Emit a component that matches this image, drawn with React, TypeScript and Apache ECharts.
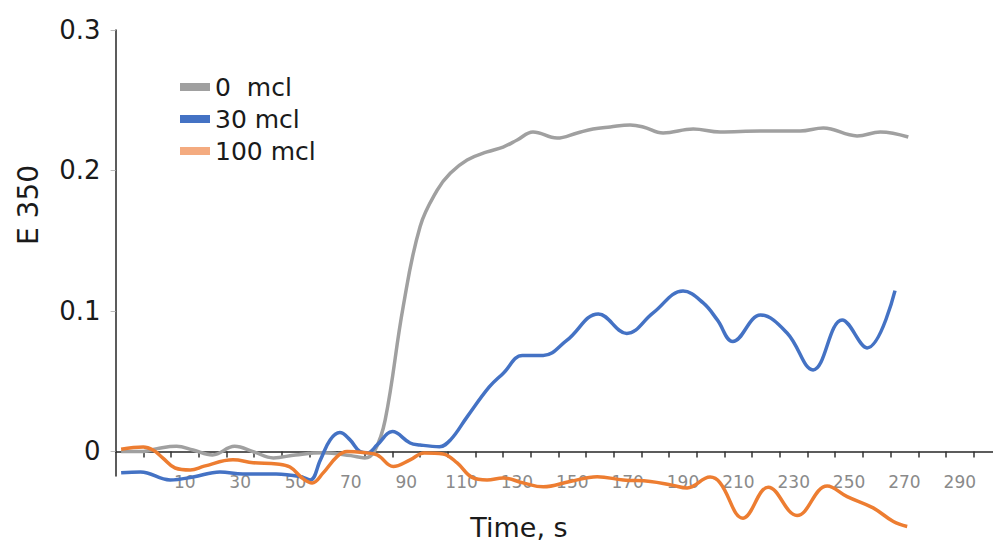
import React, { useEffect, useRef } from "react";
import * as echarts from "echarts";

const FONT = "DejaVu Sans";

const seriesNames = ["0  mcl", "30 mcl", "100 mcl"];

const grayTime = [-13, -5, 0, 7, 13, 20, 28, 35, 42, 50, 60, 70, 75, 78.5, 82.4, 88.9, 95, 101.2, 105.9, 112, 119.2, 125, 130.1, 135.8, 144.5, 151.8, 157.5, 163.7, 170.9, 175.6, 182.8, 193.7, 203.4, 217.9, 232.3, 240.7, 252.9, 261.3, 271.4];
const grayVal = [0.0, 0.0, 0.002, 0.0036, 0.001, -0.0025, 0.0036, -0.0004, -0.0046, -0.0025, -0.001, -0.003, -0.0046, 0.0, 0.0224, 0.103, 0.16, 0.186, 0.198, 0.2075, 0.2132, 0.2167, 0.2217, 0.2274, 0.2231, 0.2267, 0.2295, 0.231, 0.2324, 0.231, 0.2267, 0.2295, 0.2274, 0.2281, 0.2281, 0.2302, 0.2246, 0.2274, 0.2238];

const blueTime = [-13, -6, 4.7, 13, 22.7, 31, 43, 51.6, 55.3, 59, 62.5, 66, 69.7, 73.3, 76, 79.5, 85, 91.4, 95, 102, 106, 112, 120, 125, 132, 139.5, 148, 159.4, 169.7, 179.2, 190, 197.3, 202.4, 208, 218, 227.6, 237, 247.5, 256.5, 266.6];
const blueVal = [-0.0151, -0.0146, -0.0203, -0.0182, -0.0146, -0.016, -0.016, -0.0178, -0.0203, -0.006, 0.0082, 0.0134, 0.0082, -0.0001, -0.001, 0.0046, 0.0141, 0.006, 0.0046, 0.0034, 0.0082, 0.0246, 0.0459, 0.0555, 0.0683, 0.0683, 0.079, 0.0979, 0.084, 0.0986, 0.1142, 0.1057, 0.0936, 0.0782, 0.0971, 0.0843, 0.058, 0.0936, 0.0737, 0.1145];

const orangeTime = [-13, -5, -1.5, 2, 6.5, 12, 17, 27.4, 34.7, 43.3, 48, 52.4, 56, 60, 65, 68.6, 74.4, 79.5, 85.3, 91.4, 96.5, 103.3, 108.4, 113.8, 119.2, 125, 132.2, 139.5, 149.2, 159, 168.4, 178.2, 186, 191.5, 199.8, 203.4, 211.7, 220.8, 231.2, 242.1, 249.3, 258.7, 266, 271];
const orangeVal = [0.0016, 0.0032, 0.001, -0.0046, -0.0118, -0.0132, -0.0105, -0.006, -0.008, -0.0089, -0.0111, -0.0189, -0.0224, -0.0153, -0.0037, -0.0001, -0.0008, -0.0025, -0.0107, -0.006, -0.0011, -0.0018, -0.0082, -0.0185, -0.0203, -0.0189, -0.0224, -0.0252, -0.0214, -0.0181, -0.0203, -0.0214, -0.024, -0.026, -0.0183, -0.0224, -0.0475, -0.0255, -0.0456, -0.0246, -0.0322, -0.0402, -0.0499, -0.0534];

const xTickValues = [-5, 5, 15, 25, 35, 45, 55, 65, 75, 85, 95, 105, 115, 125, 135, 145, 155, 165, 175, 185, 195, 205, 215, 225, 235, 245, 255, 265, 275, 285, 295];
const xLabelValues = [10, 30, 50, 70, 90, 110, 130, 150, 170, 190, 210, 230, 250, 270, 290];
const yLabelValues = [0, 0.1, 0.2, 0.3];

const lineColors = ["#a0a0a0", "#4472c4", "#ed7d31"];
const legendColors = ["#a0a0a0", "#4472c4", "#f4ab80"];

function pairs(t: number[], v: number[]) {
  return t.map((x, i) => [x, v[i]]);
}

export default function App() {
  const ref = useRef<HTMLDivElement>(null);
  useEffect(() => {
    const chart = echarts.init(ref.current!, null, { renderer: "svg" });
    const datasets = [
      pairs(grayTime, grayVal),
      pairs(blueTime, blueVal),
      pairs(orangeTime, orangeVal),
    ];
    chart.setOption({
      animation: false,
      backgroundColor: "#ffffff",
      textStyle: { fontFamily: FONT },
      grid: { left: 115.6, right: 0, top: 30, bottom: 65, containLabel: false },
      legend: {
        orient: "vertical",
        left: 175,
        top: 69,
        icon: "rect",
        itemWidth: 30,
        itemHeight: 8,
        itemGap: 6,
        textStyle: { fontFamily: FONT, fontSize: 25, lineHeight: 26, color: "#1a1a1a", padding: [0, 0, 0, 0] },
        data: seriesNames.map((n, i) => ({ name: n, itemStyle: { color: legendColors[i] } })),
      },
      xAxis: {
        type: "value",
        min: -15,
        max: 302,
        splitLine: { show: false },
        axisLine: { onZero: true, lineStyle: { color: "#262626", width: 1.5 } },
        axisTick: { show: true, customValues: xTickValues, length: 6, lineStyle: { color: "#333333", width: 1.5 } },
        axisLabel: {
          customValues: xLabelValues,
          margin: -3,
          fontSize: 17,
          color: "#8a8a8a",
          fontFamily: FONT,
        },
      },
      yAxis: {
        type: "value",
        min: -0.0175,
        max: 0.3,
        splitLine: { show: false },
        axisLine: { show: true, onZero: false, lineStyle: { color: "#262626", width: 1.5 } },
        axisTick: { show: true, customValues: yLabelValues, length: 5, lineStyle: { color: "#bbbbbb" } },
        axisLabel: {
          customValues: yLabelValues,
          margin: 15,
          fontSize: 26,
          color: "#1a1a1a",
          fontFamily: FONT,
          formatter: (v: number) => (v === 0 ? "0" : String(Math.round(v * 10) / 10)),
        },
      },
      graphic: [
        {
          type: "text",
          x: 28,
          y: 205,
          rotation: Math.PI / 2,
          style: { text: "E 350", fontSize: 28, fontFamily: FONT, fill: "#1a1a1a", textAlign: "center", textVerticalAlign: "middle" },
        },
        {
          type: "text",
          x: 519,
          y: 527,
          style: { text: "Time, s", fontSize: 27, fontFamily: FONT, fill: "#1a1a1a", textAlign: "center", textVerticalAlign: "middle" },
        },
      ],
      series: seriesNames.map((n, i) => ({
        name: n,
        type: "line",
        data: datasets[i],
        smooth: 0.4,
        showSymbol: false,
        clip: false,
        lineStyle: { color: lineColors[i], width: 3.5 },
        itemStyle: { color: lineColors[i] },
      })),
    });
    return () => chart.dispose();
  }, []);
  return <div ref={ref} style={{ position: "fixed", left: 0, top: 0, width: 993, height: 541 }} />;
}
